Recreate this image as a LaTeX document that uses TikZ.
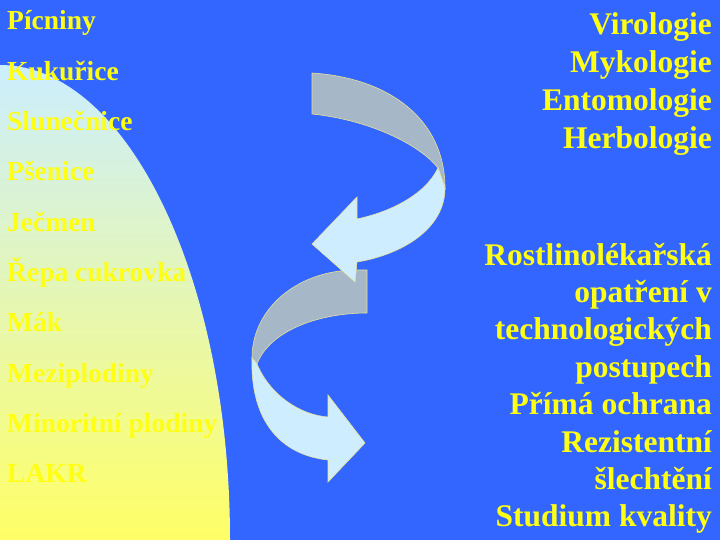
\documentclass[tikz,border=0pt]{standalone}
\usepackage{fontspec}
\setmainfont{Liberation Serif}
\definecolor{slideblue}{RGB}{51,102,255}
\definecolor{palecyan}{RGB}{204,238,255}
\definecolor{paleyellow}{RGB}{255,255,102}
\definecolor{bandgray}{RGB}{166,184,200}
\definecolor{bandfront}{RGB}{206,238,255}
\definecolor{rimline}{RGB}{232,224,150}
\definecolor{txtyellow}{RGB}{255,255,20}

\begin{document}
\begin{tikzpicture}[x=1pt, y=-1pt,
    every node/.style = {inner sep=0pt, text=txtyellow, font=\bfseries},
    crop/.style={anchor=base west, font=\bfseries\fontsize{27.5}{33}\selectfont},
    field/.style={anchor=base east, font=\bfseries\fontsize{31.5}{38}\selectfont},
    back/.style={fill=bandgray, draw=rimline, line width=0.6pt},
    front/.style={fill=bandfront, draw=rimline, line width=0.6pt, line join=miter},
    ]

    % slide background
    \fill[slideblue] (0,0) rectangle (720,540);
    \useasboundingbox (0,0) rectangle (720,540);

    % curved field on the left
    \shade[top color=palecyan, bottom color=paleyellow]
      (0,540) -- (0,65) arc[start angle=-90, end angle=0, x radius=230, y radius=475] -- cycle;

    % crops
    \foreach \txt [count=\i] in {Pícniny, Kukuřice, Slunečnice, Pšenice, Ječmen,
        Řepa cukrovka, Mák, Meziplodiny, Minoritní plodiny, LAKR}
      \node[crop] (crop\i) at (7, {30+50.3*(\i-1)}) {\txt};

    % disciplines
    \foreach \txt [count=\i] in {Virologie, Mykologie, Entomologie, Herbologie}
      \node[field] (disc\i) at (712, {35+37.7*(\i-1)}) {\txt};

    % measures
    \foreach \txt [count=\i] in {Rostlinolékařská, opatření v, technologických,
        postupech, Přímá ochrana, Rezistentní, šlechtění, Studium kvality}
      \node[field] (meas\i) at (712, {265+37.4*(\i-1)}) {\txt};

    % lower arrow
    \filldraw[back] (367,270) -- (352,270) .. controls (295,272) and (252,310) .. (252,358)
      -- (257,364) .. controls (270,330) and (320,313) .. (367,313) -- cycle;
    \filldraw[front] (252,358) .. controls (250,420) and (280,455) .. (328,460)
      -- (328,482) -- (365,443) -- (328,395) -- (328,417)
      .. controls (300,415) and (270,395) .. (257,364) -- cycle;

    % upper arrow
    \filldraw[back] (312,73) .. controls (390,78) and (445,120) .. (445,188)
      -- (438,168) .. controls (420,145) and (370,120) .. (312,114) -- cycle;
    \filldraw[front] (438,168) -- (445,188) .. controls (445,230) and (400,255) .. (357,262)
      -- (355,282) -- (312,244) -- (357,197) -- (357,219)
      .. controls (390,212) and (425,195) .. (438,168) -- cycle;

\end{tikzpicture}
\end{document}
